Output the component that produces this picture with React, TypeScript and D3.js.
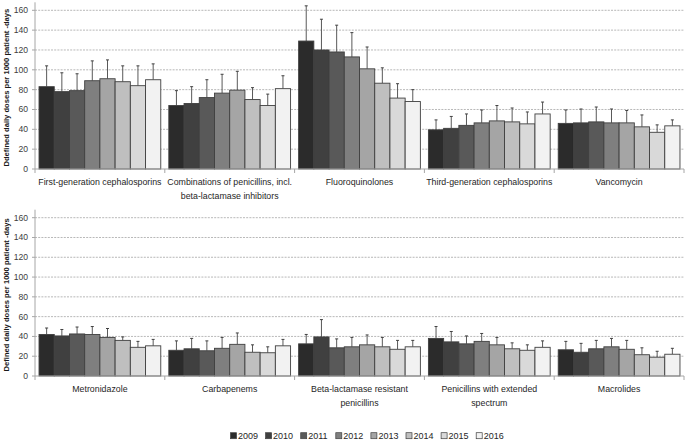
import * as d3 from "d3";

// years / series
const years = ["2009", "2010", "2011", "2012", "2013", "2014", "2015", "2016"];
const yearColors = ["#2b2b2b", "#404040", "#595959", "#7f7f7f", "#a5a5a5", "#bfbfbf", "#d9d9d9", "#f2f2f2"];
const yTicks = [0, 20, 40, 60, 80, 100, 120, 140, 160];

// top panel
const topCategories = [
  ["First-generation cephalosporins"],
  ["Combinations of penicillins, incl.", "beta-lactamase inhibitors"],
  ["Fluoroquinolones"],
  ["Third-generation cephalosporins"],
  ["Vancomycin"],
];
const firstGenMean = [83, 78, 79, 89, 91, 88, 84, 90];
const firstGenSd = [21, 19, 17, 20, 19, 16, 20, 16];
const combinationsMean = [64, 66, 72, 76.5, 79.5, 70, 64, 81];
const combinationsSd = [15, 17, 18, 19, 19, 12, 11.5, 13];
const fluoroMean = [129, 120, 118, 113, 101, 86.5, 71.5, 68];
const fluoroSd = [35.5, 31, 27, 24.5, 22, 15.5, 14.5, 12];
const thirdGenMean = [39.5, 41, 44, 46.5, 48.5, 47.5, 45.5, 55.5];
const thirdGenSd = [10, 12, 11.5, 13, 15.5, 14, 12, 12];
const vancoMean = [46, 46.5, 47.5, 46.5, 46.5, 42.5, 37, 43.5];
const vancoSd = [13.5, 14, 15, 14, 12.5, 12, 7.5, 6];

// bottom panel
const bottomCategories = [
  ["Metronidazole"],
  ["Carbapenems"],
  ["Beta-lactamase resistant", "penicillins"],
  ["Penicillins with extended", "spectrum"],
  ["Macrolides"],
];
const metroMean = [42, 40.5, 42.5, 42, 39, 36, 29, 30.5];
const metroSd = [6.5, 6.5, 7, 8, 9, 3.5, 6, 6.5];
const carbaMean = [26, 27.5, 25.5, 28, 32, 24, 23.5, 30.5];
const carbaSd = [9.5, 10.5, 10, 11, 11.5, 7.5, 6, 6.5];
const betaLacMean = [32.5, 39.5, 28.5, 29.5, 31.5, 29.5, 27, 29.5];
const betaLacSd = [9.5, 17.5, 9, 9.5, 10, 9.5, 9, 6.5];
const penExtMean = [38, 34.5, 32.5, 35, 31.5, 27.5, 26, 29];
const penExtSd = [12, 10.5, 8, 8, 7.5, 6, 5.5, 6.5];
const macroMean = [26.5, 24, 27.5, 29.5, 27, 21.5, 19, 22];
const macroSd = [8.5, 9, 8.5, 8.5, 9, 7, 6, 6];

const FONT = "'Liberation Sans', Arial, sans-serif";
const W = 685;
const H = 442;
const left = 35;
const right = 684;

type PanelProps = {
  y0: number;
  y160: number;
  cats: string[][];
  means: number[][];
  sds: number[][];
  yLabel: string;
};

function Panel({ y0, y160, cats, means, sds, yLabel }: PanelProps) {
  const keys = cats.map((c) => c.join(" "));
  const x = d3.scaleBand().domain(keys).range([left, right]).paddingInner(0.062).paddingOuter(0.031);
  const xi = d3.scaleBand().domain(years).range([0, x.bandwidth()]);
  const y = d3.scaleLinear().domain([0, 160]).range([y0, y160]);
  const step = x.step();

  return (
    <g>
      {/* gridlines */}
      {yTicks.slice(1).map((t) => (
        <line key={t} x1={left} x2={right} y1={y(t)} y2={y(t)} stroke="#a6a6a6" strokeWidth={0.8} strokeDasharray="2,1.2" />
      ))}
      {/* y axis */}
      <line x1={left} x2={left} y1={y0} y2={y160 - 8} stroke="#a6a6a6" strokeWidth={1} />
      {yTicks.map((t) => (
        <g key={t}>
          <line x1={left - 3} x2={left} y1={y(t)} y2={y(t)} stroke="#a6a6a6" />
          <text x={left - 7} y={y(t)} dy="0.35em" textAnchor="end" fontSize={8.6} fill="#404040" fontFamily={FONT}>
            {t}
          </text>
        </g>
      ))}
      <text
        transform={`translate(9,${(y0 + y160) / 2 - 2}) rotate(-90)`}
        textAnchor="middle"
        fontSize={7.6}
        fontWeight="bold"
        fill="#1a1a1a"
        fontFamily={FONT}
      >
        {yLabel}
      </text>
      {/* bars */}
      {keys.map((k, ci) => (
        <g key={k} transform={`translate(${x(k)},0)`}>
          {years.map((yr, i) => {
            const v = means[ci][i];
            const top = y(v + sds[ci][i]);
            const cx = (xi(yr) ?? 0) + xi.bandwidth() / 2;
            return (
              <g key={yr}>
                <line x1={cx} x2={cx} y1={y(v)} y2={top} stroke="#595959" strokeWidth={1} />
                <line x1={cx - 1.5} x2={cx + 1.5} y1={top} y2={top} stroke="#404040" strokeWidth={1} />
                <rect
                  x={xi(yr)}
                  y={y(v)}
                  width={xi.bandwidth()}
                  height={y0 - y(v)}
                  fill={yearColors[i]}
                  stroke="#3f3f3f"
                  strokeWidth={0.9}
                />
              </g>
            );
          })}
        </g>
      ))}
      {/* x axis */}
      <line x1={left} x2={right} y1={y0} y2={y0} stroke="#a6a6a6" strokeWidth={1} />
      {d3.range(cats.length + 1).map((i) => (
        <line key={i} x1={left + i * step} x2={left + i * step} y1={y0} y2={y0 + 4} stroke="#a6a6a6" />
      ))}
      {cats.map((lines, ci) => (
        <text
          key={ci}
          x={(x(keys[ci]) ?? 0) + x.bandwidth() / 2}
          y={y0 + 16}
          textAnchor="middle"
          fontSize={8.8}
          fill="#262626"
          fontFamily={FONT}
        >
          {lines.map((l, li) => (
            <tspan key={li} x={(x(keys[ci]) ?? 0) + x.bandwidth() / 2} dy={li === 0 ? 0 : 13.5}>
              {l}
            </tspan>
          ))}
        </text>
      ))}
    </g>
  );
}

export default function App() {
  return (
    <div>
      <style>{"body{margin:0}"}</style>
      <svg width={W} height={H} style={{ display: "block", background: "#fff" }}>
        <Panel
          y0={169}
          y160={10.3}
          cats={topCategories}
          means={[firstGenMean, combinationsMean, fluoroMean, thirdGenMean, vancoMean]}
          sds={[firstGenSd, combinationsSd, fluoroSd, thirdGenSd, vancoSd]}
          yLabel="Ddefined daily doses per 1000 patient -days"
        />
        <Panel
          y0={376}
          y160={217.7}
          cats={bottomCategories}
          means={[metroMean, carbaMean, betaLacMean, penExtMean, macroMean]}
          sds={[metroSd, carbaSd, betaLacSd, penExtSd, macroSd]}
          yLabel="Defined daily doses per 1000 patient -days"
        />
        {/* legend */}
        {years.map((yr, i) => (
          <g key={yr} transform={`translate(${230.5 + i * 35.1},436)`}>
            <rect x={0} y={-3.3} width={6} height={6} fill={yearColors[i]} stroke="#3f3f3f" strokeWidth={0.7} />
            <text x={7.5} y={0} dy="0.35em" fontSize={9} fill="#262626" fontFamily={FONT}>
              {yr}
            </text>
          </g>
        ))}
      </svg>
    </div>
  );
}
